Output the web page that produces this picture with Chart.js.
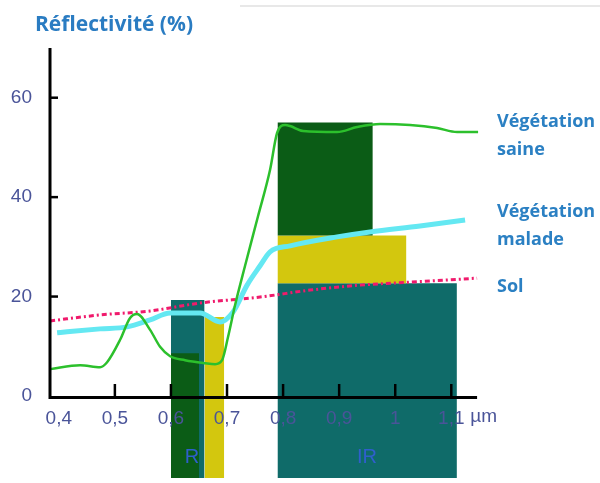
<!DOCTYPE html>
<html>
<head>
<meta charset="utf-8">
<script src="https://cdn.jsdelivr.net/npm/chart.js@4.4.1/dist/chart.umd.min.js"></script>
<style>
  html, body { margin: 0; padding: 0; background: #ffffff; }
  #wrap { width: 600px; height: 483px; }
</style>
</head>
<body>
<div id="wrap"><canvas id="c" width="600" height="483"></canvas></div>
<script>
// ---- data ----
const wavelengthTicks = [0.4, 0.5, 0.6, 0.7, 0.8, 0.9, 1.0, 1.1];
const wavelengthLabels = ['0,4', '0,5', '0,6', '0,7', '0,8', '0,9', '1', '1,1'];
const reflTicks = [0, 20, 40, 60];

const healthyX = [0.3845, 0.438, 0.4736, 0.4861, 0.5093, 0.5271, 0.5396, 0.5628, 0.5806, 0.5985, 0.6252, 0.6609, 0.6787, 0.6912, 0.7019, 0.7144, 0.7322, 0.7554, 0.7768, 0.7893, 0.8036, 0.8125, 0.8357, 0.8963, 0.932, 0.973, 1.0265, 1.0747, 1.1103, 1.1478];
const healthyY = [5.4, 6.2, 5.8, 6.8, 11.3, 15.7, 16.5, 13.3, 9.9, 8.0, 7.2, 6.6, 6.4, 7.2, 11.9, 18.3, 26.2, 36.2, 45.5, 52.9, 54.5, 54.3, 53.3, 53.1, 54.1, 54.7, 54.5, 53.9, 53.1, 53.1];

const diseasedX = [0.397, 0.4148, 0.4736, 0.5218, 0.5628, 0.5985, 0.652, 0.6876, 0.7108, 0.7358, 0.759, 0.7768, 0.8125, 0.8963, 0.955, 1.0443, 1.1246];
const diseasedY = [12.7, 12.9, 13.5, 13.9, 15.3, 16.7, 16.7, 14.9, 16.9, 22.3, 26.2, 29.0, 30.2, 32.0, 33.0, 34.2, 35.4];

const soilX = [0.3845, 0.4736, 0.5628, 0.652, 0.759, 0.8482, 0.9374, 1.0265, 1.146];
const soilY = [15.1, 16.3, 17.1, 18.7, 19.9, 21.3, 22.3, 22.9, 23.7];

// spectral bands (R and IR rectangles): start, end wavelength, low / high reflectivity
const bandStart = [0.60, 0.60, 0.66, 0.79, 0.79, 0.79];
const bandEnd   = [0.66, 0.65, 0.695, 1.11, 1.02, 0.96];
const bandLow   = [-16.5, -16.5, -16.5, -16.5, 22.7, 32.3];
const bandHigh  = [19.3, 8.6, 15.9, 22.7, 32.3, 55.0];

// ---- styles ----
const bandColors = ['#0f6b69', '#0b5c16', '#d3c70e', '#0f6b69', '#d3c70e', '#0b5c16'];
const Y_MIN = -16.5, Y_MAX = 70;

const zip = (xs, ys) => xs.map((x, i) => ({ x: x, y: ys[i] }));

const bandDatasets = bandStart.map((s, i) => ({
  data: [{ x: s, y: bandHigh[i] }, { x: bandEnd[i], y: bandHigh[i] }],
  borderWidth: 0,
  borderColor: 'rgba(0,0,0,0)',
  backgroundColor: bandColors[i],
  pointRadius: 0,
  fill: { value: bandLow[i] },
  order: 20 - i
}));

const curveDatasets = [
  {
    data: zip(soilX, soilY),
    borderColor: '#f01a6c',
    borderWidth: 3,
    borderDash: [5, 3, 2, 3],
    pointRadius: 0,
    fill: false,
    cubicInterpolationMode: 'monotone',
    order: 3
  },
  {
    data: zip(diseasedX, diseasedY),
    borderColor: '#64e8f2',
    borderWidth: 5,
    pointRadius: 0,
    fill: false,
    cubicInterpolationMode: 'monotone',
    order: 2
  },
  {
    data: zip(healthyX, healthyY),
    borderColor: '#2cc02c',
    borderWidth: 2.5,
    pointRadius: 0,
    fill: false,
    cubicInterpolationMode: 'monotone',
    order: 1
  }
];

const axesPlugin = {
  id: 'axesPlugin',
  afterDatasetsDraw(chart) {
    const ctx = chart.ctx, x = chart.scales.x, y = chart.scales.y, a = chart.chartArea;
    const y0 = y.getPixelForValue(0);
    ctx.save();
    ctx.strokeStyle = '#000';
    ctx.lineWidth = 3;
    ctx.lineCap = 'butt';
    ctx.beginPath();
    ctx.moveTo(a.left, a.top);
    ctx.lineTo(a.left, y0 + 1.5);
    ctx.lineTo(x.getPixelForValue(1.146), y0 + 1.5);
    ctx.stroke();
    ctx.lineWidth = 2.5;
    reflTicks.slice(1).forEach(v => {
      const py = y.getPixelForValue(v);
      ctx.beginPath(); ctx.moveTo(a.left, py); ctx.lineTo(a.left + 8, py); ctx.stroke();
    });
    wavelengthTicks.slice(1).forEach(v => {
      const px = x.getPixelForValue(v);
      ctx.beginPath(); ctx.moveTo(px, y0); ctx.lineTo(px, y0 - 12); ctx.stroke();
    });
    ctx.restore();
  },
  afterDraw(chart) {
    const ctx = chart.ctx, x = chart.scales.x, y = chart.scales.y;
    ctx.save();
    // faint top rule
    ctx.strokeStyle = '#e8e8e8';
    ctx.lineWidth = 2;
    ctx.beginPath(); ctx.moveTo(240, 6); ctx.lineTo(600, 6); ctx.stroke();
    // title
    ctx.fillStyle = '#2a7cc2';
    ctx.textBaseline = 'middle';
    ctx.textAlign = 'left';
    ctx.font = 'bold 21px "Open Sans"';
    ctx.fillText('Réflectivité (%)', 35, 25);
    // series labels
    ctx.fillStyle = '#2b80c3';
    ctx.font = 'bold 18px "Open Sans"';
    ctx.fillText('Végétation', 497, 122);
    ctx.fillText('saine', 497, 150);
    ctx.fillText('Végétation', 497, 212);
    ctx.fillText('malade', 497, 240);
    ctx.fillText('Sol', 497, 287);
    // band labels
    ctx.fillStyle = '#2f5fcc';
    ctx.font = '20px "Liberation Sans"';
    ctx.textAlign = 'center';
    ctx.fillText('R', 192, 457);
    ctx.fillText('IR', 367, 457);
    // unit
    ctx.fillStyle = '#4a5499';
    ctx.font = '19px "Liberation Sans"';
    ctx.textAlign = 'left';
    ctx.textBaseline = 'top';
    ctx.fillText('µm', x.getPixelForValue(1.1) + 19, y.getPixelForValue(0) + 11);
    ctx.restore();
  }
};

const noVPad = s => { s.paddingTop = 0; s.paddingBottom = 0; };

new Chart(document.getElementById('c'), {
  type: 'line',
  data: { datasets: bandDatasets.concat(curveDatasets) },
  options: {
    responsive: false,
    animation: false,
    events: [],
    layout: { padding: { left: 0, right: 120, top: 48, bottom: 5 } },
    plugins: { legend: { display: false }, tooltip: { enabled: false }, title: { display: false } },
    scales: {
      x: {
        type: 'linear',
        min: 0.3843,
        max: 1.1512,
        position: { y: 0 },
        grid: { display: false, drawTicks: false },
        border: { display: false },
        afterBuildTicks: s => { s.ticks = wavelengthTicks.map(v => ({ value: v })); },
        afterFit: s => { s.height = 0; noVPad(s); s.paddingLeft = 0; s.paddingRight = 0; },
        ticks: {
          z: 1,
          autoSkip: false,
          maxRotation: 0,
          padding: 11,
          color: '#4a5499',
          font: { family: 'Liberation Sans', size: 19 },
          callback: (v, i) => wavelengthLabels[i]
        }
      },
      y: {
        type: 'linear',
        min: Y_MIN,
        max: Y_MAX,
        grid: { display: false, drawTicks: false },
        border: { display: false },
        afterBuildTicks: s => { s.ticks = reflTicks.map(v => ({ value: v })); },
        afterFit: s => { s.width = 50; noVPad(s); },
        ticks: {
          autoSkip: false,
          padding: 18,
          color: '#4a5499',
          font: { family: 'Liberation Sans', size: 19 },
          callback: v => String(v)
        }
      }
    }
  },
  plugins: [axesPlugin]
});
</script>
</body>
</html>
